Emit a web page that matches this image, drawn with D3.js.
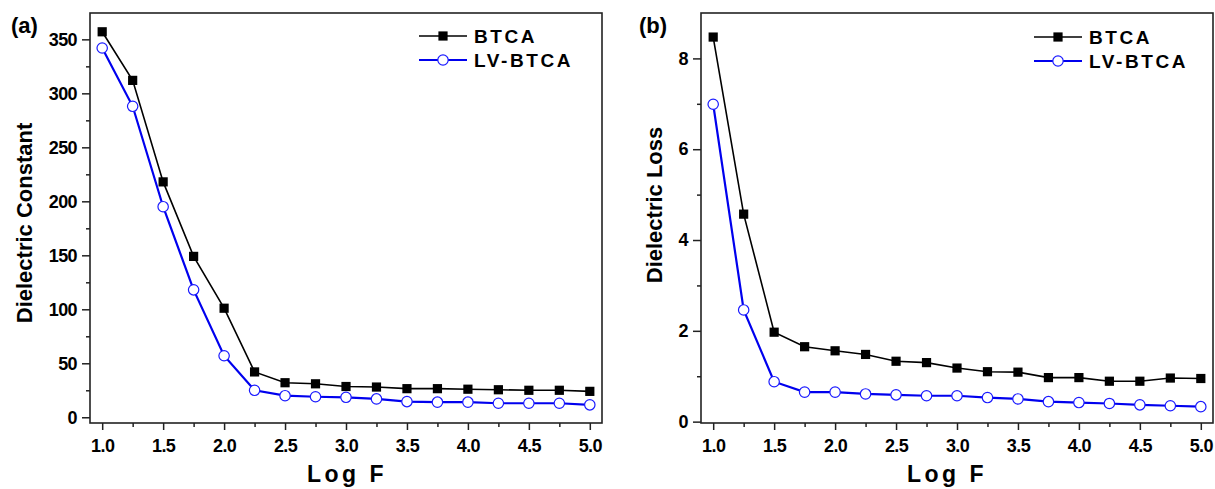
<!DOCTYPE html>
<html>
<head>
<meta charset="utf-8">
<script src="https://cdn.jsdelivr.net/npm/d3@7"></script>
<style>
  html, body { margin: 0; padding: 0; background: #fff; }
  svg { display: block; }
  text { font-family: "Liberation Sans", Arial, sans-serif; font-weight: bold; fill: #000; }
</style>
</head>
<body>
<svg id="chart" width="1215" height="489"></svg>
<script>
// Frequency sweep (log scale) shared by both panels
const logF = [1.0, 1.25, 1.5, 1.75, 2.0, 2.25, 2.5, 2.75, 3.0, 3.25, 3.5, 3.75, 4.0, 4.25, 4.5, 4.75, 5.0];

// Dielectric constant
const btcaConst = [357, 312, 218, 149, 101, 42, 32, 31, 28.5, 28, 26.5, 26.5, 26, 25.5, 25, 25, 24];
const lvConst   = [342, 288, 195, 118, 57, 25, 20, 19, 18.5, 17, 14.5, 14, 14, 13, 13, 13, 11.5];

// Dielectric loss
const btcaLoss = [8.47, 4.57, 1.97, 1.65, 1.56, 1.48, 1.33, 1.30, 1.18, 1.10, 1.09, 0.97, 0.97, 0.89, 0.89, 0.96, 0.95];
const lvLoss   = [6.99, 2.46, 0.88, 0.65, 0.65, 0.61, 0.59, 0.57, 0.57, 0.53, 0.50, 0.44, 0.42, 0.40, 0.37, 0.35, 0.33];

// Tick values
const xMajorTicks = [1.0, 1.5, 2.0, 2.5, 3.0, 3.5, 4.0, 4.5, 5.0];
const xMinorTicks = [1.25, 1.75, 2.25, 2.75, 3.25, 3.75, 4.25, 4.75];
const constMajorTicks = [0, 50, 100, 150, 200, 250, 300, 350];
const constMinorTicks = [25, 75, 125, 175, 225, 275, 325];
const lossMajorTicks = [0, 2, 4, 6, 8];
const lossMinorTicks = [1, 3, 5, 7];

const seriesNames = ["BTCA", "LV-BTCA"];

const svg = d3.select("#chart");

const panels = [
  {
    tag: "(a)", yLabel: "Dielectric Constant",
    box: { left: 90, right: 602, top: 13, bottom: 423 },
    yDomain: [-5.3, 374.4],
    yMajor: constMajorTicks, yMinor: constMinorTicks,
    yFormat: d3.format("d"),
    series: [btcaConst, lvConst],
    tagPos: [11, 33], yLabelPos: [32, 223], xLabelX: 347, legend: { x: 419, y: 36 }
  },
  {
    tag: "(b)", yLabel: "Dielectric Loss",
    box: { left: 701, right: 1213, top: 13, bottom: 423 },
    yDomain: [-0.03, 9.0],
    yMajor: lossMajorTicks, yMinor: lossMinorTicks,
    yFormat: d3.format("d"),
    series: [btcaLoss, lvLoss],
    tagPos: [639, 33], yLabelPos: [662, 205], xLabelX: 947, legend: { x: 1034, y: 37 }
  }
];

const styles = [
  { stroke: "#000", width: 1.6, marker: "square" },
  { stroke: "#0000ee", width: 2.2, marker: "circle" }
];

function drawMarker(g, kind, cx, cy) {
  if (kind === "square") {
    g.append("rect")
      .attr("x", cx - 4.6).attr("y", cy - 4.6)
      .attr("width", 9.2).attr("height", 9.2)
      .attr("fill", "#000");
  } else {
    g.append("circle")
      .attr("cx", cx).attr("cy", cy).attr("r", 5.2)
      .attr("fill", "#fff").attr("stroke", "#1a1aff").attr("stroke-width", 1.2);
  }
}

panels.forEach(p => {
  const b = p.box;
  const x = d3.scaleLinear().domain([0.9, 5.1]).range([b.left, b.right]);
  const y = d3.scaleLinear().domain(p.yDomain).range([b.bottom, b.top]);
  const g = svg.append("g");

  // X axis: major + minor ticks
  g.append("g").attr("transform", `translate(0,${b.bottom})`)
    .call(d3.axisBottom(x).tickValues(xMajorTicks).tickSize(7).tickPadding(9).tickFormat(d3.format(".1f")));
  g.append("g").attr("transform", `translate(0,${b.bottom})`)
    .call(d3.axisBottom(x).tickValues(xMinorTicks).tickSize(4).tickFormat(""));

  // Y axis: major + minor ticks
  g.append("g").attr("transform", `translate(${b.left},0)`)
    .call(d3.axisLeft(y).tickValues(p.yMajor).tickSize(8).tickPadding(5).tickFormat(p.yFormat));
  g.append("g").attr("transform", `translate(${b.left},0)`)
    .call(d3.axisLeft(y).tickValues(p.yMinor).tickSize(4).tickFormat(""));

  g.selectAll(".domain").remove();
  g.selectAll(".tick line").attr("stroke", "#222").attr("stroke-width", 1.5);
  g.selectAll(".tick text")
    .style("font-size", "18px").style("font-weight", "bold")
    .style("letter-spacing", "-0.6px").attr("fill", "#000");

  // Frame
  g.append("rect")
    .attr("x", b.left).attr("y", b.top)
    .attr("width", b.right - b.left).attr("height", b.bottom - b.top)
    .attr("fill", "none").attr("stroke", "#222").attr("stroke-width", 1.6);

  // Series lines and markers
  p.series.forEach((vals, i) => {
    const st = styles[i];
    const pts = logF.map((f, k) => [x(f), y(vals[k])]);
    g.append("path")
      .attr("d", d3.line()(pts))
      .attr("fill", "none").attr("stroke", st.stroke).attr("stroke-width", st.width);
    const mg = g.append("g");
    pts.forEach(([cx, cy]) => drawMarker(mg, st.marker, cx, cy));
  });

  // Legend
  seriesNames.forEach((name, i) => {
    const st = styles[i];
    const ly = p.legend.y + i * 24;
    g.append("line")
      .attr("x1", p.legend.x).attr("x2", p.legend.x + 48)
      .attr("y1", ly).attr("y2", ly)
      .attr("stroke", st.stroke).attr("stroke-width", st.width);
    drawMarker(g, st.marker, p.legend.x + 24, ly);
    g.append("text")
      .attr("x", p.legend.x + 55).attr("y", ly + 7)
      .style("font-size", "19px").style("letter-spacing", "2.6px")
      .text(name);
  });

  // Axis titles
  g.append("text")
    .attr("transform", `translate(${p.yLabelPos[0]},${p.yLabelPos[1]}) rotate(-90)`)
    .attr("text-anchor", "middle")
    .style("font-size", "22px")
    .text(p.yLabel);
  g.append("text")
    .attr("x", p.xLabelX).attr("y", 482)
    .attr("text-anchor", "middle")
    .style("font-size", "23px").style("letter-spacing", "3.5px")
    .text("Log F");

  // Panel tag
  g.append("text")
    .attr("x", p.tagPos[0]).attr("y", p.tagPos[1])
    .style("font-size", "22px")
    .text(p.tag);
});
</script>
</body>
</html>
